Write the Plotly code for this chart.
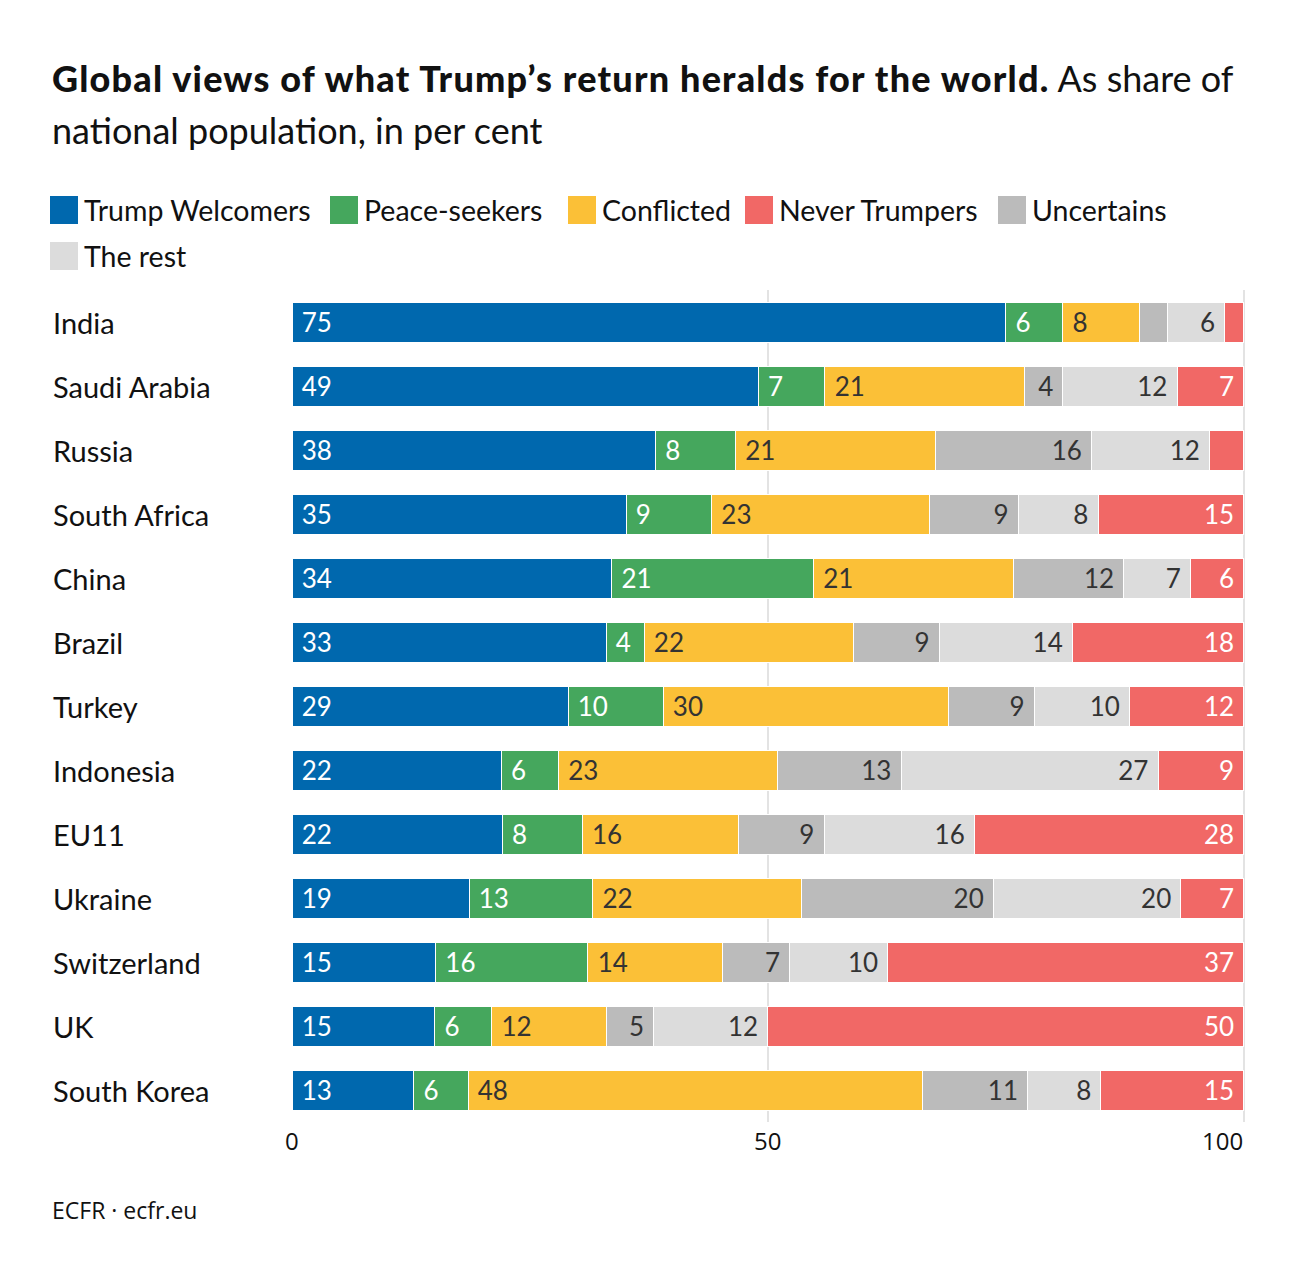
import plotly.graph_objects as go

# ---------------- data ----------------
countries = ["India", "Saudi Arabia", "Russia", "South Africa", "China", "Brazil",
             "Turkey", "Indonesia", "EU11", "Ukraine", "Switzerland", "UK", "South Korea"]
series_names = ["Trump Welcomers", "Peace-seekers", "Conflicted", "Never Trumpers",
                "Uncertains", "The rest"]
welcomers = [75, 49, 38.2, 35.1, 33.6, 33, 29, 22, 22.1, 18.6, 15.1, 15, 12.8]
peace_seekers = [6, 7, 8.4, 9, 21.2, 4, 10, 6, 8.4, 13, 16, 6, 5.7]
conflicted = [8, 21, 21, 22.9, 21, 22, 30, 23, 16.4, 21.9, 14.1, 12, 47.7]
uncertains = [3, 4, 16.4, 9.3, 11.6, 9, 9, 13, 9, 20.2, 7.1, 5, 11.1]
the_rest = [6, 12, 12.4, 8.4, 7, 14, 10, 27, 15.8, 19.7, 10.3, 12, 7.7]
never_trumpers = [2, 7, 3.6, 15.3, 5.6, 18, 12, 9, 28.3, 6.6, 37.4, 50, 15]
x_ticks = [0, 50, 100]

# ---------------- styling ----------------
colors = {
    "Trump Welcomers": "#0068ae",
    "Peace-seekers": "#45a75d",
    "Conflicted": "#fbc037",
    "Never Trumpers": "#f16866",
    "Uncertains": "#bbbbbb",
    "The rest": "#dcdcdc",
}
text_colors = {
    "Trump Welcomers": "white",
    "Peace-seekers": "white",
    "Conflicted": "#333333",
    "Never Trumpers": "white",
    "Uncertains": "#333333",
    "The rest": "#333333",
}
FONT = "Lato"
TICKFONT = "Open Sans"
W, H = 1300, 1278
L, R, T, B = 292, 42, 290, 156
XMAX = 101.5
PW, PH = W - L - R, H - T - B


def px_x(px):
    return (px - L) / PW


def px_y(py):
    return (H - B - py) / PH


NB = "\u00a0"
stack = [
    ("Trump Welcomers", welcomers, "start"),
    ("Peace-seekers", peace_seekers, "start"),
    ("Conflicted", conflicted, "start"),
    ("Uncertains", uncertains, "end"),
    ("The rest", the_rest, "end"),
    ("Never Trumpers", never_trumpers, "end"),
]

fig = go.Figure()
for name, vals, anchor in stack:
    texts = []
    for v in vals:
        if v >= 3.75:
            s = f"{v:.0f}"
            texts.append(NB + s if anchor == "start" else s + NB)
        else:
            texts.append("")
    fig.add_trace(go.Bar(
        y=countries, x=vals, name=name, orientation="h",
        marker=dict(color=colors[name], line=dict(color="white", width=1)),
        text=texts, textposition="inside", insidetextanchor=anchor,
        constraintext="none", textangle=0,
        textfont=dict(family=FONT, size=26, color=text_colors[name]),
        hoverinfo="skip", showlegend=False,
    ))

annotations = []
shapes = []

# title (two lines)
annotations.append(dict(
    xref="paper", yref="paper", x=px_x(50), y=px_y(78), xanchor="left", yanchor="middle",
    text=("<span style=\"font-weight:900;letter-spacing:1.2px\">"
          "Global views of what Trump\u2019s return heralds for the world.</span> As share of"),
    showarrow=False, font=dict(family=FONT, size=36, color="#111111")))
annotations.append(dict(
    xref="paper", yref="paper", x=px_x(50), y=px_y(130), xanchor="left", yanchor="middle",
    text="national population, in per cent",
    showarrow=False, font=dict(family=FONT, size=36, color="#111111")))

# manual legend (large square swatches)
legend_order = ["Trump Welcomers", "Peace-seekers", "Conflicted", "Never Trumpers",
                "Uncertains", "The rest"]
legend_pos = [(50, 210), (330, 210), (568, 210), (745, 210), (998, 210), (50, 256)]
for name, (lx, ly) in zip(legend_order, legend_pos):
    shapes.append(dict(type="rect", xref="paper", yref="paper",
                       x0=px_x(lx), x1=px_x(lx + 28), y0=px_y(ly - 14), y1=px_y(ly + 14),
                       fillcolor=colors[name], line=dict(width=0)))
    annotations.append(dict(
        xref="paper", yref="paper", x=px_x(lx + 32), y=px_y(ly), xanchor="left", yanchor="middle",
        text=name, showarrow=False, font=dict(family=FONT, size=28.5, color="#111111")))

# category labels, left aligned
for c in countries:
    annotations.append(dict(
        xref="paper", yref="y", x=px_x(51), y=c, xanchor="left", yanchor="middle",
        text=c, showarrow=False, font=dict(family=FONT, size=29, color="#111111")))

# x tick labels
for t in x_ticks:
    annotations.append(dict(
        xref="x", yref="paper", x=t, y=px_y(1140), yanchor="middle",
        xanchor="center" if t < 100 else "right",
        xshift=0 if t < 100 else 1,
        text=str(t), showarrow=False, font=dict(family=TICKFONT, size=24, color="#111111")))

# footer
annotations.append(dict(
    xref="paper", yref="paper", x=px_x(50), y=px_y(1210), xanchor="left", yanchor="middle",
    text="ECFR \u00b7 ecfr.eu", showarrow=False,
    font=dict(family=TICKFONT, size=23, color="#111111")))

fig.update_layout(
    width=W, height=H,
    margin=dict(l=L, r=R, t=T, b=B),
    barmode="stack", bargap=0.375,
    plot_bgcolor="white", paper_bgcolor="white",
    showlegend=False,
    xaxis=dict(range=[0, XMAX], tickvals=x_ticks, showticklabels=False,
               showgrid=True, gridcolor="#e3e3e3", gridwidth=2, zeroline=False,
               showline=False, fixedrange=True),
    yaxis=dict(categoryorder="array", categoryarray=countries, autorange="reversed",
               showticklabels=False, showgrid=False, zeroline=False, showline=False),
    annotations=annotations,
    shapes=shapes,
)

fig.write_html("out.html", config={"displayModeBar": False},
               post_script="document.body.style.margin='0px';")
